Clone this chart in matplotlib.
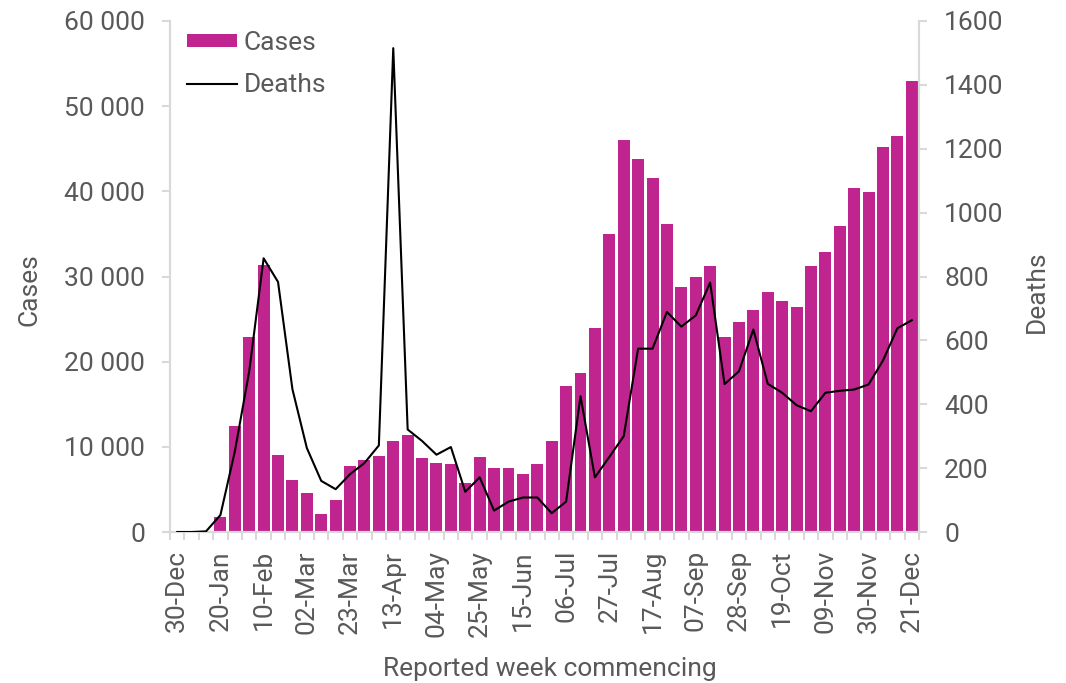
import numpy as np
import matplotlib
matplotlib.use("Agg")
import matplotlib.pyplot as plt
import matplotlib.ticker as ticker

# ─── Data ─────────────────────────────────────────────────────────────────────
WEEKS = [
    "30-Dec", "06-Jan", "13-Jan", "20-Jan", "27-Jan", "03-Feb", "10-Feb", "17-Feb",
    "24-Feb", "02-Mar", "09-Mar", "16-Mar", "23-Mar", "30-Mar", "06-Apr", "13-Apr",
    "20-Apr", "27-Apr", "04-May", "11-May", "18-May", "25-May", "01-Jun", "08-Jun",
    "15-Jun", "22-Jun", "29-Jun", "06-Jul", "13-Jul", "20-Jul", "27-Jul", "03-Aug",
    "10-Aug", "17-Aug", "24-Aug", "31-Aug", "07-Sep", "14-Sep", "21-Sep", "28-Sep",
    "05-Oct", "12-Oct", "19-Oct", "26-Oct", "02-Nov", "09-Nov", "16-Nov", "23-Nov",
    "30-Nov", "07-Dec", "14-Dec", "21-Dec",
]
CASES = [
    0, 0, 0, 1800, 12400, 22900, 31300, 9000,
    6100, 4600, 2150, 3750, 7750, 8500, 8900, 10650,
    11400, 8700, 8150, 7950, 5700, 8750, 7550, 7500,
    6850, 8000, 10700, 17200, 18700, 24000, 35000, 46000,
    43850, 41600, 36150, 28750, 29950, 31250, 22900, 24650,
    26100, 28200, 27100, 26400, 31250, 32850, 35950, 40400,
    39950, 45200, 46550, 52950,
]
DEATHS = [
    0, 0, 2, 53, 252, 503, 857, 783,
    447, 263, 160, 134, 181, 216, 271, 1515,
    321, 285, 242, 266, 126, 171, 67, 95,
    108, 108, 59, 95, 425, 171, 235, 300,
    574, 574, 689, 643, 678, 781, 463, 503,
    634, 464, 436, 397, 378, 436, 442, 446,
    462, 537, 638, 663,
]

# ─── Style ────────────────────────────────────────────────────────────────────
BAR_COLOUR  = "#C0248F"
TEXT_COLOUR = "#595959"
AXIS_COLOUR = "#D9D9D9"
FONT_SIZE   = 19

plt.rcParams["font.family"] = ["Roboto", "DejaVu Sans"]
plt.rcParams["text.color"] = TEXT_COLOUR

fig = plt.figure(figsize=(10.66, 6.83), dpi=100)
ax = fig.add_axes([170 / 1066, 1 - 532 / 683, (919 - 170) / 1066, (532 - 21) / 683])
ax2 = ax.twinx()

x = np.arange(len(WEEKS))
bars = ax.bar(x, CASES, width=0.83, color=BAR_COLOUR, label="Cases", zorder=2)
line, = ax2.plot(x, DEATHS, color="black", lw=1.5, label="Deaths", zorder=3)

ax.set_xlim(-0.5, len(WEEKS) - 0.5)
ax.set_ylim(0, 60000)
ax2.set_ylim(0, 1600)
ax.yaxis.set_major_locator(ticker.MultipleLocator(10000))
ax2.yaxis.set_major_locator(ticker.MultipleLocator(200))
ax.yaxis.set_major_formatter(ticker.FuncFormatter(lambda v, p: f"{int(v):,}".replace(",", " ")))
ax2.yaxis.set_major_formatter(ticker.FuncFormatter(lambda v, p: f"{int(v)}"))

# labels every third week, tick marks on every category boundary
ax.set_xticks(x[::3])
ax.set_xticklabels(WEEKS[::3], rotation=90, va="top", ha="center")
ax.set_xticks(np.arange(len(WEEKS) + 1) - 0.5, minor=True)
ax.tick_params(axis="x", which="major", length=0, pad=13,
               labelsize=FONT_SIZE, labelcolor=TEXT_COLOUR)
ax.tick_params(axis="x", which="minor", length=6, width=1.5, color=AXIS_COLOUR)
ax.tick_params(axis="y", length=6, width=1.5, color=AXIS_COLOUR, pad=12,
               labelsize=FONT_SIZE, labelcolor=TEXT_COLOUR)
ax2.tick_params(axis="y", length=6, width=1.5, color=AXIS_COLOUR, pad=12,
                labelsize=FONT_SIZE, labelcolor=TEXT_COLOUR)

for a in (ax, ax2):
    a.spines["top"].set_visible(False)
    for side in ("left", "right", "bottom"):
        a.spines[side].set_color(AXIS_COLOUR)
        a.spines[side].set_linewidth(1.5)

ax.set_ylabel("Cases", fontsize=FONT_SIZE, color=TEXT_COLOUR)
ax2.set_ylabel("Deaths", fontsize=FONT_SIZE, color=TEXT_COLOUR)
ax.set_xlabel("Reported week commencing", fontsize=FONT_SIZE, color=TEXT_COLOUR)
ax.yaxis.set_label_coords(30 / 1066, 1 - 290 / 683, transform=fig.transFigure)
ax2.yaxis.set_label_coords(1037 / 1066, 1 - 292 / 683, transform=fig.transFigure)
ax.xaxis.set_label_coords(550 / 1066, 1 - 669 / 683, transform=fig.transFigure)
ax.xaxis.label.set_va("center")
ax.yaxis.label.set_va("center")
ax2.yaxis.label.set_va("center")

ax2.legend([bars, line], ["Cases", "Deaths"],
           loc="upper left", bbox_to_anchor=(187 / 1066, 1 - 31 / 683),
           bbox_transform=fig.transFigure, frameon=False,
           fontsize=FONT_SIZE, borderpad=0, borderaxespad=0,
           handlelength=1.9, handleheight=0.42, handletextpad=0.25,
           labelspacing=0.68, labelcolor=TEXT_COLOUR)

fig.savefig("out.png", dpi=100)
